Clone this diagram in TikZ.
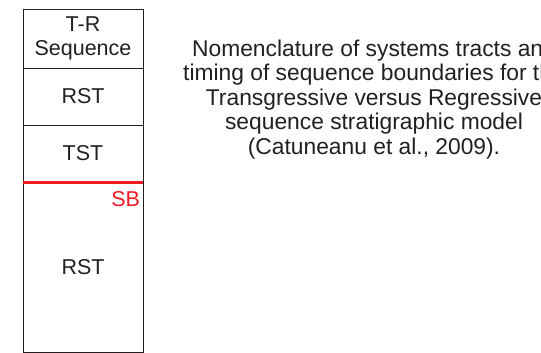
\documentclass[tikz,border=0pt]{standalone}
\usepackage{fontspec}
\setmainfont{Liberation Sans}
\usetikzlibrary{positioning}
\definecolor{sbred}{HTML}{ED1C24}
\definecolor{inkgray}{HTML}{231F20}
\begin{document}
\begin{tikzpicture}[x=1pt,y=1pt,inner sep=0pt,outer sep=0pt,
cell/.style={draw=inkgray,rectangle,line width=0.9pt,minimum width=120pt,text=inkgray,align=center,font=\fontsize{21.5}{23.5}\selectfont}]
\useasboundingbox (0,0) rectangle (541,-353);
\node[cell,minimum height=59pt] (head) at (83,-38.5) {T-R\\Sequence};
\node[cell,minimum height=57pt,below=0pt of head] (rst1) {RST};
\node[cell,minimum height=57pt,below=0pt of rst1] (tst) {TST};
\node[cell,minimum height=170pt,below=0pt of tst] (rst2) {RST};
\draw[sbred,line width=3pt] (tst.south west) -- (tst.south east);
\node[anchor=north east,text=sbred,font=\fontsize{21.5}{23.5}\selectfont] (sb) at ([xshift=-3pt,yshift=-9.5pt]tst.south east) {SB};
\node[anchor=north,align=center,text=inkgray,font=\fontsize{22.8}{24.6}\selectfont] (caption) at (374,-39.5)
  {Nomenclature of systems tracts and\\timing of sequence boundaries for the\\Transgressive versus Regressive\\sequence stratigraphic model\\(Catuneanu et al., 2009).};
\end{tikzpicture}
\end{document}
